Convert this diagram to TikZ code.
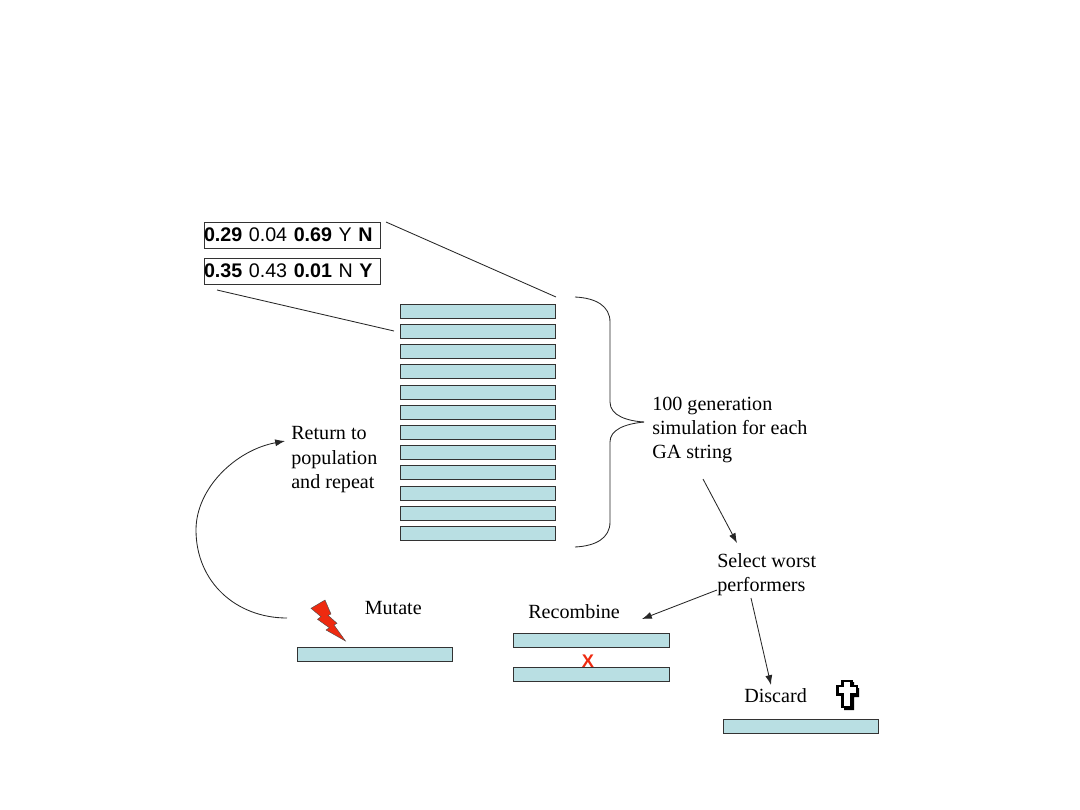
\documentclass[tikz,border=0pt]{standalone}
\usepackage{fontspec}
\usetikzlibrary{arrows.meta}
\setmainfont{Liberation Serif}
\setsansfont{Liberation Sans}
\definecolor{barfill}{HTML}{B9DFE3}
\definecolor{boltred}{HTML}{EE2A10}
\begin{document}
\begin{tikzpicture}[x=0.025cm, y=-0.025cm, thin, >={Latex[length=7pt,width=5pt]}, nodes = {align = left}]

  \tikzstyle{bar}=[draw=black!80, line width=0.65pt, rectangle, minimum height=14*0.025cm, minimum width=155.5*0.025cm, inner sep=0pt, fill=barfill]
  \tikzstyle{gene}=[draw=black!80, line width=0.65pt, rectangle, minimum height=26*0.025cm, minimum width=176*0.025cm, text width=176*0.025cm, inner sep=0pt, font=\sffamily\fontsize{14}{15}\selectfont]
  \tikzstyle{label}=[inner sep=0pt, anchor=north west, font=\fontsize{14.3}{17.2}\selectfont]
  \tikzstyle{link}=[draw=black!85, line width=0.6pt]

  \useasboundingbox (0,0) rectangle (1080,810);

  % GA strings
  \node[gene] (str1) at (292,235) {\textbf{0.29} 0.04 \textbf{0.69} Y \textbf{N}};
  \node[gene] (str2) at (292,271) {\textbf{0.35} 0.43 \textbf{0.01} N \textbf{Y}};

  % Population
  \node[bar] (p1) at (478,311) {};
  \node[bar] (p2) at (478,331) {};
  \node[bar] (p3) at (478,351) {};
  \node[bar] (p4) at (478,371.5) {};
  \node[bar] (p5) at (478,392) {};
  \node[bar] (p6) at (478,412) {};
  \node[bar] (p7) at (478,432) {};
  \node[bar] (p8) at (478,452.5) {};
  \node[bar] (p9) at (478,472.5) {};
  \node[bar] (p10) at (478,493) {};
  \node[bar] (p11) at (478,513) {};
  \node[bar] (p12) at (478,533.5) {};

  % Single strings at the bottom
  \node[bar] (mut) at (375,654) {};
  \node[bar] (rec1) at (591.5,640.5) {};
  \node[bar] (rec2) at (591.5,674.5) {};
  \node[bar] (disc) at (801,726) {};

  % Labels
  \node[label] (sim) at (652,396.5) {100 generation\\simulation for each\\GA string};
  \node[label] (ret) at (291,426.5) {Return to\\population\\and repeat};
  \node[label] (sel) at (717,553.5) {Select worst\\performers};
  \node[label] (mutl) at (364.5,601) {Mutate};
  \node[label] (recl) at (528,604) {Recombine};
  \node[label] (discl) at (744,688) {Discard};
  \node[inner sep=0pt, text=boltred, font=\sffamily\bfseries\fontsize{13}{15}\selectfont] (x) at (588,661) {X};

  % Free ends
  \coordinate (a1) at (386,222);
  \coordinate (a2) at (556,297);
  \coordinate (b1) at (217,290);
  \coordinate (b2) at (394,331);
  \coordinate (c1) at (703,479);
  \coordinate (c2) at (737,543);
  \coordinate (d1) at (717,590);
  \coordinate (d2) at (642,619);
  \coordinate (e1) at (751,598);
  \coordinate (e2) at (771,685);
  \coordinate (f1) at (287,618);
  \coordinate (f2) at (285,441);

  % Zoom lines
  \draw[link] (a1) -- (a2);
  \draw[link] (b1) -- (b2);

  % Arrows
  \draw[link, ->] (c1) -- (c2);
  \draw[link, ->] (d1) -- (d2);
  \draw[link, ->] (e1) -- (e2);
  \draw[link, ->] (f1) .. controls (236,618) and (196,582) .. (196,530)
    .. controls (196,488) and (236,450) .. (f2);

  % Brace
  \draw[link] (575,297) .. controls (596,298) and (610,306) .. (610,322) -- (610,402)
    .. controls (610,416) and (628,421) .. (644,422);
  \draw[link] (575,547) .. controls (596,546) and (610,538) .. (610,522) -- (610,442)
    .. controls (610,430) and (624,424) .. (644,422);

  % Lightning
  \draw[draw=black!70, line width=0.3pt, fill=boltred] (311,608.3) -- (325,600) -- (331,614) -- (328,615.3)
    -- (337,623.3) -- (334,625) -- (345.5,641) -- (326,630) -- (329.3,627.7) -- (317.5,619.3) -- (321,616.7) -- cycle;

  % Cross
  \fill[black] (844,682) -- (854,682) -- (854,688) -- (859,688) -- (859,697) -- (854,697) -- (854,710) -- (844,710) -- cycle;
  \draw[black, line width=1.6pt, fill=white] (842.5,681) -- (851.5,681) -- (851.5,686) -- (857,686) -- (857,694.5) -- (851.5,694.5)
    -- (851.5,707) -- (842.5,707) -- (842.5,694.5) -- (837.5,694.5) -- (837.5,686) -- (842.5,686) -- cycle;

\end{tikzpicture}
\end{document}
